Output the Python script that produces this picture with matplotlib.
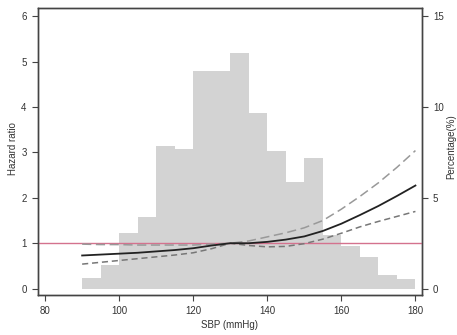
import numpy as np
import matplotlib
matplotlib.use("Agg")
import matplotlib.pyplot as plt

plt.rcParams['font.family'] = ['Liberation Sans', 'DejaVu Sans']

# histogram of SBP (percentage per 5 mmHg bin)
bin_left = np.arange(90, 180, 5)
pct = [0.57, 1.3, 3.05, 3.96, 7.86, 7.69, 12.0, 11.95, 12.96, 9.66,
       7.58, 5.86, 7.18, 2.96, 2.35, 1.76, 0.75, 0.52]

# restricted cubic spline hazard ratio with 95% CI
sbp = [90, 95, 100, 105, 110, 115, 120, 125, 130, 135, 140, 145, 150, 155, 160, 165, 170, 175, 180]
hr = [0.73, 0.75, 0.77, 0.79, 0.82, 0.85, 0.89, 0.95, 1.0, 1.0, 1.03, 1.08, 1.15, 1.27, 1.43, 1.62, 1.82, 2.04, 2.27]
hr_hi = [0.98, 0.97, 0.97, 0.96, 0.96, 0.96, 0.96, 0.98, 1.0, 1.05, 1.14, 1.23, 1.34, 1.50, 1.75, 2.03, 2.33, 2.67, 3.04]
hr_lo = [0.54, 0.58, 0.62, 0.66, 0.70, 0.74, 0.79, 0.88, 1.0, 0.95, 0.92, 0.93, 0.99, 1.09, 1.22, 1.36, 1.48, 1.59, 1.70]

fig = plt.figure(figsize=(4.57, 3.35), dpi=100)
ax = fig.add_axes([0.0825, 0.1194, 0.8403, 0.8582])
ax2 = ax.twinx()
ax.set_zorder(ax2.get_zorder() + 1)
ax.patch.set_visible(False)

ax2.bar(bin_left, pct, width=5, align='edge', color='#d3d3d3', linewidth=0)

ax.axhline(1, color='#d4728e', lw=1.0)
ax.plot(sbp, hr_hi, color='#999999', lw=1.1, ls=(0, (6, 3)))
ax.plot(sbp, hr_lo, color='#777777', lw=1.1, ls=(0, (4, 2.5)))
ax.plot(sbp, hr, color='#222222', lw=1.3)

ax.set_xlim(78.0, 181.7)
ax.set_ylim(-0.14, 6.19)
ax2.set_ylim(-0.35, 15.47)
ax.set_xticks([80, 100, 120, 140, 160, 180])
ax.set_yticks(range(0, 7))
ax2.set_yticks([0, 5, 10, 15])

for a in (ax, ax2):
    for s in a.spines.values():
        s.set_color('#444444')
        s.set_linewidth(1.0)
    a.tick_params(labelsize=7, length=4, width=0.8, color='#444444', labelcolor='#333333', pad=4)

ax.set_xlabel('SBP (mmHg)', fontsize=7, color='#333333', labelpad=3)
fig.text(13 / 457, 1 - 149 / 335, 'Hazard ratio', rotation=90, fontsize=7,
         color='#333333', ha='center', va='center')
fig.text(451 / 457, 1 - 147 / 335, 'Percentage(%)', rotation=90, fontsize=7,
         color='#333333', ha='center', va='center')

fig.savefig('out.png', dpi=100)
